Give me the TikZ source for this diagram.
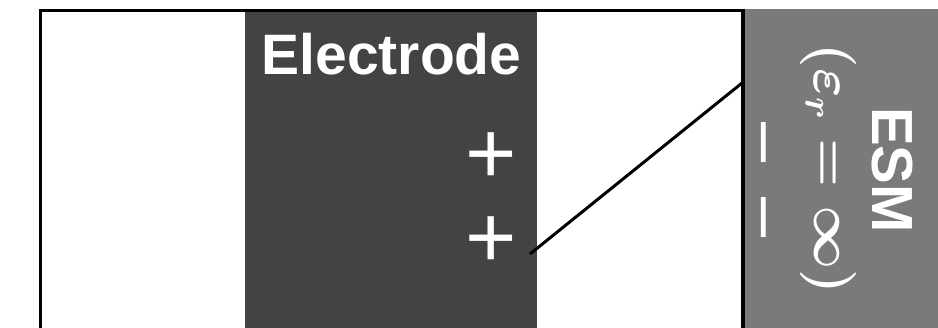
\documentclass[tikz,border=0pt]{standalone}
\usepackage{fix-cm}
\usepackage{fontspec}
\setmainfont{Liberation Sans}
\definecolor{electrodegray}{HTML}{434343}
\definecolor{esmgray}{HTML}{7A7A7A}

\begin{document}
\begin{tikzpicture}[x=0.5pt,y=0.5pt,
    whitetext/.style={text=white,inner sep=0pt},
    sidetext/.style={whitetext,rotate=-90}]
  \useasboundingbox (0,0) rectangle (938,327);
  % electrode and ESM slabs
  \fill[electrodegray] (245,-4) rectangle (537,315);
  \fill[esmgray] (745,-4) rectangle (942,318);
  \draw[line width=1.6pt] (40.5,-4) -- (40.5,316.5) -- (743,316.5) -- (743,-4);
  \node[whitetext,font=\fontsize{28.5}{34}\selectfont\bfseries] (electrode) at (391.5,272.5) {Electrode};
  \node[whitetext,font=\fontsize{44}{50}\selectfont] (plusa) at (491,169) {+};
  \node[whitetext,font=\fontsize{44}{50}\selectfont] (plusb) at (491,85) {+};
  % ESM labels, read top to bottom
  \node[sidetext,font=\fontsize{29}{34}\selectfont\bfseries] (esm) at (892,157) {ESM};
  \node[sidetext,font=\fontsize{28}{34}\selectfont\boldmath] (permittivity) at (828,158) {$(\varepsilon_r=\infty)$};
  \node[sidetext,font=\fontsize{36}{42}\selectfont] (minus) at (756,147) {–\hspace{17.5pt}–};
  % potential drop
  \coordinate (chargeend) at (530,73);
  \coordinate (esmedge) at (742,244);
  \draw[line width=1.5pt] (chargeend) -- (esmedge);
\end{tikzpicture}
\end{document}
